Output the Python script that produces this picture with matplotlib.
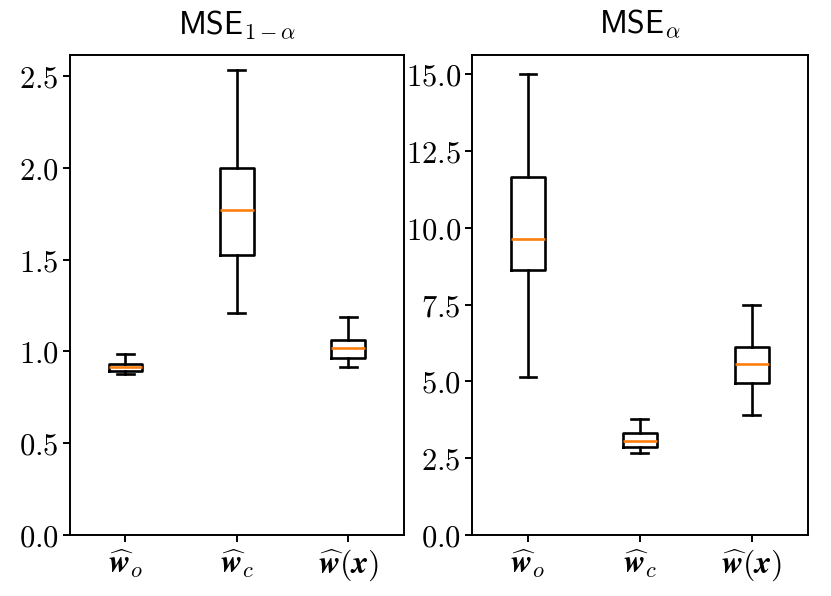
import matplotlib
matplotlib.use("Agg")
import matplotlib.pyplot as plt
from matplotlib.ticker import FuncFormatter, MultipleLocator

plt.rcParams['mathtext.fontset'] = 'cm'

labels = [r'$\widehat{\boldsymbol{w}}_o$', r'$\widehat{\boldsymbol{w}}_c$',
          r'$\widehat{\boldsymbol{w}}(\boldsymbol{x})$']

# left panel: MSE_{1-alpha}
left_whislo = [0.877, 1.209, 0.913]
left_q1 = [0.891, 1.523, 0.964]
left_med = [0.913, 1.770, 1.020]
left_q3 = [0.933, 1.999, 1.064]
left_whishi = [0.984, 2.533, 1.187]

# right panel: MSE_alpha
right_whislo = [5.14, 2.68, 3.91]
right_q1 = [8.62, 2.87, 4.95]
right_med = [9.63, 3.06, 5.56]
right_q3 = [11.65, 3.32, 6.12]
right_whishi = [15.0, 3.76, 7.48]

titles = [r'$\mathsf{MSE}_{1-\alpha}$', r'$\mathsf{MSE}_{\alpha}$']

fig = plt.figure(figsize=(8.31, 5.96), dpi=100)
ax1 = fig.add_axes([0.084, 0.1023, 0.402, 0.8054])
ax2 = fig.add_axes([0.568, 0.1023, 0.404, 0.8054])

def stats(lo, q1, med, q3, hi):
    return [dict(whislo=a, q1=b, med=c, q3=d, whishi=e, fliers=[], label=l)
            for a, b, c, d, e, l in zip(lo, q1, med, q3, hi, labels)]

lw = 1.9
for ax, st, title, ymax, step in [
    (ax1, stats(left_whislo, left_q1, left_med, left_q3, left_whishi), titles[0], 2.614, 0.5),
    (ax2, stats(right_whislo, right_q1, right_med, right_q3, right_whishi), titles[1], 15.62, 2.5),
]:
    ax.bxp(st, showfliers=False,
           boxprops=dict(linewidth=lw, color='black'),
           whiskerprops=dict(linewidth=lw, color='black'),
           capprops=dict(linewidth=lw, color='black'),
           medianprops=dict(linewidth=lw, color='#ff7f0e'))
    ax.set_ylim(0, ymax)
    ax.set_xlim(0.5, 3.5)
    ax.yaxis.set_major_locator(MultipleLocator(step))
    ax.yaxis.set_major_formatter(FuncFormatter(lambda v, p: r'$%.1f$' % v))
    ax.tick_params(axis='y', labelsize=22, width=1.4, length=5, pad=3)
    ax.tick_params(axis='x', labelsize=23, width=1.4, length=5, pad=4)
    ax.set_title(title, fontsize=23, pad=15)
    for s in ax.spines.values():
        s.set_linewidth(1.4)

fig.savefig('out.png', dpi=100)
